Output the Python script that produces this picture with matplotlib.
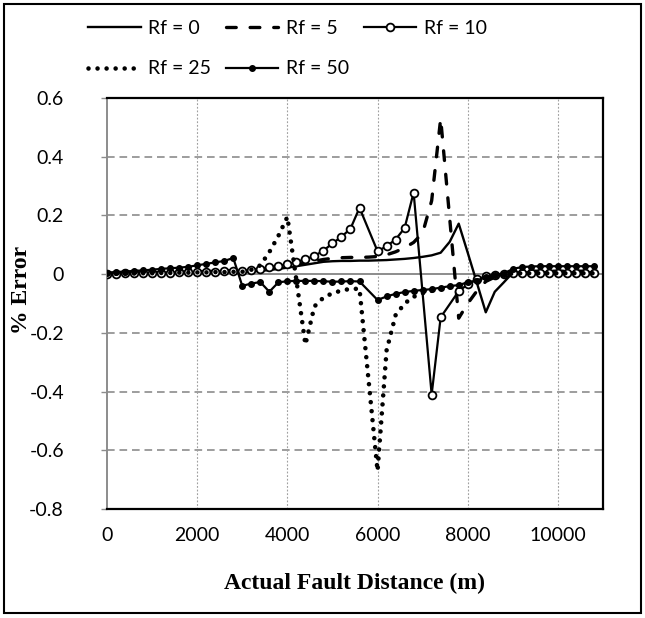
import matplotlib
matplotlib.use("Agg")
import matplotlib.pyplot as plt
from matplotlib.patches import Rectangle

plt.rcParams['lines.scale_dashes'] = False

# distances (m) shared by Rf = 0, 5, 25
dist = [0, 200, 400, 600, 800, 1000, 1200, 1400, 1600, 1800,
        2000, 2200, 2400, 2600, 2800, 3000, 3200, 3400, 3600, 3800,
        4000, 4200, 4400, 4600, 4800, 5000, 5200, 5400, 5600, 5800,
        6000, 6200, 6400, 6600, 6800, 7000, 7200, 7400, 7600, 7800,
        8000, 8200, 8400, 8600, 8800, 9000, 9200, 9400, 9600, 9800,
        10000, 10200, 10400, 10600, 10800]

err_rf0 = [0.000, 0.001, 0.001, 0.002, 0.002, 0.003, 0.003, 0.004, 0.004, 0.005,
           0.005, 0.006, 0.006, 0.007, 0.008, 0.008, 0.009, 0.011, 0.014, 0.018,
           0.022, 0.027, 0.032, 0.037, 0.042, 0.044, 0.045, 0.045, 0.046, 0.046,
           0.047, 0.048, 0.050, 0.052, 0.055, 0.059, 0.064, 0.073, 0.110, 0.172,
           0.073, -0.028, -0.130, -0.060, -0.028, 0.005, 0.006, 0.006, 0.006, 0.006,
           0.006, 0.006, 0.006, 0.006, 0.006]

err_rf5 = [0.002, 0.003, 0.003, 0.004, 0.004, 0.005, 0.005, 0.006, 0.007, 0.007,
           0.008, 0.009, 0.010, 0.011, 0.012, 0.013, 0.014, 0.016, 0.019, 0.023,
           0.027, 0.032, 0.038, 0.044, 0.050, 0.054, 0.056, 0.057, 0.057, 0.058,
           0.060, 0.066, 0.076, 0.090, 0.108, 0.140, 0.250, 0.530, 0.190, -0.150,
           -0.100, -0.058, -0.025, -0.010, 0.000, 0.008, 0.010, 0.010, 0.010, 0.010,
           0.010, 0.010, 0.010, 0.010, 0.010]

err_rf25 = [0.001, 0.001, 0.002, 0.002, 0.003, 0.003, 0.004, 0.004, 0.005, 0.005,
            0.006, 0.006, 0.007, 0.007, 0.008, 0.008, 0.015, 0.030, 0.075, 0.130,
            0.195, -0.020, -0.240, -0.110, -0.080, -0.065, -0.056, -0.050, -0.050, -0.360,
            -0.670, -0.260, -0.140, -0.100, -0.077, -0.065, -0.057, -0.050, -0.044, -0.038,
            -0.030, -0.020, -0.011, -0.005, -0.001, 0.002, 0.003, 0.003, 0.003, 0.003,
            0.003, 0.003, 0.003, 0.003, 0.003]

dist_rf10 = [0, 200, 400, 600, 800, 1000, 1200, 1400, 1600, 1800,
             2000, 2200, 2400, 2600, 2800, 3000, 3200, 3400, 3600, 3800,
             4000, 4200, 4400, 4600, 4800, 5000, 5200, 5400, 5600,
             6000, 6200, 6400, 6600, 6800, 7200, 7400, 7800,
             8000, 8200, 8400, 8600, 8800, 9000, 9200, 9400, 9600, 9800,
             10000, 10200, 10400, 10600, 10800]
err_rf10 = [0.002, 0.002, 0.003, 0.003, 0.004, 0.004, 0.005, 0.005, 0.006, 0.007,
            0.007, 0.008, 0.009, 0.010, 0.011, 0.012, 0.014, 0.018, 0.024, 0.028,
            0.034, 0.042, 0.050, 0.062, 0.080, 0.105, 0.127, 0.155, 0.226,
            0.078, 0.095, 0.118, 0.157, 0.278, -0.410, -0.147, -0.058,
            -0.035, -0.018, -0.008, -0.003, 0.002, 0.004, 0.004, 0.004, 0.004, 0.004,
            0.004, 0.004, 0.004, 0.004, 0.004]

dist_rf50 = [0, 200, 400, 600, 800, 1000, 1200, 1400, 1600, 1800,
             2000, 2200, 2400, 2600, 2800, 3000, 3200, 3400, 3600, 3800,
             4000, 4200, 4400, 4600, 4800, 5000, 5200, 5400, 5600,
             6000, 6200, 6400, 6600, 6800, 7000, 7200, 7400, 7600, 7800,
             8000, 8200, 8400, 8600, 8800, 9000, 9200, 9400, 9600, 9800,
             10000, 10200, 10400, 10600, 10800]
err_rf50 = [0.005, 0.007, 0.009, 0.011, 0.013, 0.015, 0.018, 0.020, 0.022, 0.025,
            0.030, 0.035, 0.040, 0.045, 0.055, -0.040, -0.032, -0.027, -0.060, -0.028,
            -0.024, -0.023, -0.023, -0.023, -0.024, -0.026, -0.025, -0.024, -0.025,
            -0.088, -0.076, -0.067, -0.061, -0.057, -0.054, -0.051, -0.046, -0.041, -0.037,
            -0.028, -0.022, -0.010, -0.003, 0.002, 0.018, 0.024, 0.026, 0.027, 0.027,
            0.027, 0.027, 0.027, 0.027, 0.027]

xticks = [0, 2000, 4000, 6000, 8000, 10000]
xtick_labels = ['0', '2000', '4000', '6000', '8000', '10000']
yticks = [-0.8, -0.6, -0.4, -0.2, 0, 0.2, 0.4, 0.6]
ytick_labels = ['-0.8', '-0.6', '-0.4', '-0.2', '0', '0.2', '0.4', '0.6']

tick_font = 'Lato'
title_font = 'Liberation Serif'
grey = '#8c8c8c'

fig = plt.figure(figsize=(6.45, 6.18), dpi=100)
ax = fig.add_axes([107/645, 1-509/618, (603-107)/645, (509-98)/618])

l0, = ax.plot(dist, err_rf0, color='black', lw=1.7, zorder=3)
l5, = ax.plot(dist, err_rf5, color='black', lw=2.4, linestyle=(0, (7, 10)),
              dash_capstyle='round', zorder=4)
l10, = ax.plot(dist_rf10, err_rf10, color='black', lw=1.6, marker='o', ms=5.6,
               mfc='white', mec='black', mew=1.3, zorder=5)
l25, = ax.plot(dist, err_rf25, color='black', lw=3.3, linestyle=(0, (0.01, 6.5)),
               dash_capstyle='round', zorder=6)
l50, = ax.plot(dist_rf50, err_rf50, color='black', lw=1.6, marker='o', ms=4.0,
               mfc='black', mec='black', zorder=7)

ax.set_xlim(0, 11000)
ax.set_ylim(-0.8, 0.6)
ax.set_xticks(xticks)
ax.set_xticklabels(xtick_labels, fontfamily=tick_font, fontsize=14)
ax.set_yticks(yticks)
ax.set_yticklabels(ytick_labels, fontfamily=tick_font, fontsize=14)
ax.tick_params(axis='x', length=0, pad=13)
ax.tick_params(axis='y', direction='out', length=4, width=1, color=grey, pad=27)

# grid: dashed horizontal, dotted vertical
for y in [-0.6, -0.4, -0.2, 0.2, 0.4]:
    ax.axhline(y, color=grey, lw=1.2, linestyle=(0, (5.5, 3.5)), zorder=1)
for x in [2000, 4000, 6000, 8000, 10000]:
    ax.axvline(x, color='#a0a0a0', lw=0.8, linestyle=(0, (1.3, 1.3)), zorder=1)
ax.axhline(0, color=grey, lw=1.4, zorder=2)

for side in ['top', 'right', 'bottom']:
    ax.spines[side].set_color('black')
    ax.spines[side].set_linewidth(1.6)
ax.spines['left'].set_color(grey)
ax.spines['left'].set_linewidth(1.4)

fig.text(355/645, 1-583/618, 'Actual Fault Distance (m)', ha='center', va='center',
         fontfamily=title_font, fontweight='bold', fontsize=17)
fig.text(22/645, 1-290/618, '% Error', ha='center', va='center', rotation=90,
         fontfamily=title_font, fontweight='bold', fontsize=17)

handles = [l0, l25, l5, l50, l10]
labels = ['Rf = 0', 'Rf = 25', 'Rf = 5', 'Rf = 50', 'Rf = 10']
fig.legend(handles, labels, loc='upper left', bbox_to_anchor=(88/645, 1-20/618),
           bbox_transform=fig.transFigure, ncol=3, frameon=False, borderpad=0,
           borderaxespad=0, handlelength=2.7, handletextpad=0.4, columnspacing=0.75,
           labelspacing=1.2, prop={'family': tick_font, 'size': 14})

fig.patches.append(Rectangle((4/645, 5/618), 637/645, 609/618, transform=fig.transFigure,
                             fill=False, ec='black', lw=1.5))

fig.savefig('out.png', dpi=100)
